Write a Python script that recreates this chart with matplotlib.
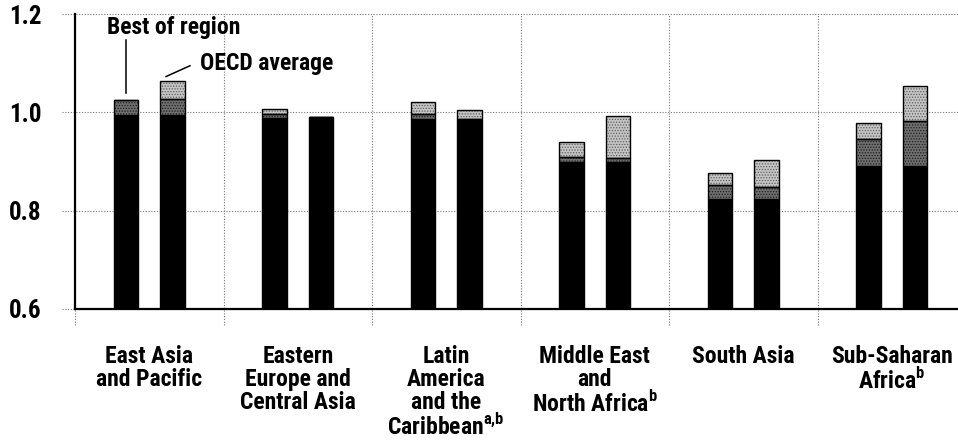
import numpy as np
import matplotlib
matplotlib.use("Agg")
import matplotlib.pyplot as plt
from matplotlib import font_manager as fm

# regions
regions = ["East Asia\nand Pacific",
           "Eastern\nEurope and\nCentral Asia",
           "Latin\nAmerica\nand the\nCaribbean$^{\\mathbf{a{,}b}}$",
           "Middle East\nand\nNorth Africa$^{\\mathbf{b}}$",
           "South Asia",
           "Sub-Saharan\nAfrica$^{\\mathbf{b}}$"]

# "Best of region" bars: top of black, top of dark segment, top of light segment
best_black = [0.995, 0.989, 0.987, 0.900, 0.823, 0.890]
best_mid = [1.026, 0.997, 0.997, 0.910, 0.853, 0.946]
best_top = [1.026, 1.006, 1.022, 0.940, 0.876, 0.978]

# "OECD average" bars
oecd_black = [0.995, 0.991, 0.987, 0.900, 0.823, 0.890]
oecd_mid = [1.028, 0.991, 0.987, 0.907, 0.848, 0.982]
oecd_top = [1.063, 0.991, 1.005, 0.993, 0.903, 1.054]

yticks = [0.6, 0.8, 1.0, 1.2]


def pick_font():
    # look for a narrow / condensed face, else plain DejaVu Sans
    names = {f.name for f in fm.fontManager.ttflist}
    for n in ["Liberation Sans Narrow", "Roboto Condensed", "Open Sans Condensed",
              "Noto Sans Condensed", "DejaVu Sans Condensed"]:
        if n in names:
            return n, "normal"
    for f in fm.fontManager.ttflist:
        if f.name == "DejaVu Sans" and "condensed" in str(f.stretch):
            return "DejaVu Sans", "condensed"
    return "DejaVu Sans", "normal"


FONT, STRETCH = pick_font()
plt.rcParams['font.family'] = [FONT, 'DejaVu Sans']
plt.rcParams['font.stretch'] = STRETCH
plt.rcParams['font.weight'] = 'bold'
if STRETCH == "normal" and FONT != "DejaVu Sans":
    plt.rcParams['mathtext.fontset'] = 'custom'
    plt.rcParams['mathtext.bf'] = FONT + ':bold'
    plt.rcParams['mathtext.rm'] = FONT + ':bold'
else:
    plt.rcParams['mathtext.fontset'] = 'dejavusans'
plt.rcParams['hatch.linewidth'] = 0.6


def stacked_bar(ax, x, black, mid, top, w):
    base = 0.6
    black = np.array(black)
    mid = np.array(mid)
    top = np.array(top)
    ax.bar(x, black - base, w, bottom=base, color="black", edgecolor="black", lw=1, zorder=3)
    # dark stipple
    ax.bar(x, mid - black, w, bottom=black, color="#6e6e6e", edgecolor="#1e1e1e",
           hatch="......", lw=0, zorder=3)
    ax.bar(x, mid - black, w, bottom=black, fill=False, edgecolor="black", lw=1, zorder=4)
    # light stipple
    ax.bar(x, top - mid, w, bottom=mid, color="#c4c4c4", edgecolor="#5e5e5e",
           hatch="......", lw=0, zorder=3)
    ax.bar(x, top - mid, w, bottom=mid, fill=False, edgecolor="black", lw=1, zorder=4)


def main():
    fig = plt.figure(figsize=(9.58, 4.42), dpi=100)
    ax = fig.add_axes([0.0783, 0.301, 0.9217, 0.667])

    x = np.arange(len(regions))
    w = 0.165
    off = 0.158
    stacked_bar(ax, x - off, best_black, best_mid, best_top, w)
    stacked_bar(ax, x + off, oecd_black, oecd_mid, oecd_top, w)

    ax.set_ylim(0.6, 1.2)
    ax.set_xlim(-0.5, 5.446)

    # dotted grid
    for y in yticks:
        ax.axhline(y, xmin=-0.015, xmax=1, color="#777777", lw=0.8, ls=(0, (1, 1.5)),
                   clip_on=False, zorder=1)
    for xb in np.arange(-0.5, 5.0, 1.0):
        ax.axvline(xb, ymin=-0.054, ymax=1, color="#777777", lw=0.8, ls=(0, (1, 1.5)),
                   clip_on=False, zorder=1)

    for s in ["top", "right"]:
        ax.spines[s].set_visible(False)
    ax.spines["left"].set_linewidth(1.6)
    ax.spines["left"].set_zorder(5)
    ax.spines["bottom"].set_linewidth(1.6)
    ax.spines["bottom"].set_zorder(5)

    fs = 17 if STRETCH == "condensed" or FONT != "DejaVu Sans" else 13
    ax.set_yticks(yticks)
    ax.set_yticklabels([f"{v:.1f}" for v in yticks], fontsize=18, fontweight="bold")
    ax.tick_params(axis="y", length=0, pad=24)
    ax.set_xticks(x)
    ax.set_xticklabels(regions, fontsize=fs, fontweight="bold", linespacing=1.0)
    ax.tick_params(axis="x", length=0, pad=26)

    # callouts
    ax.text(0.167, 1.172, "Best of region", ha="center", va="center",
            fontsize=fs, fontweight="bold")
    ax.plot([-off, -off], [1.040, 1.148], color="black", lw=1.1, zorder=6)
    ax.text(0.793, 1.099, "OECD average", ha="center", va="center",
            fontsize=fs, fontweight="bold")
    ax.plot([0.113, 0.274], [1.073, 1.095], color="black", lw=1.1, zorder=6)

    fig.savefig("out.png", dpi=100)


if __name__ == '__main__':
    main()
